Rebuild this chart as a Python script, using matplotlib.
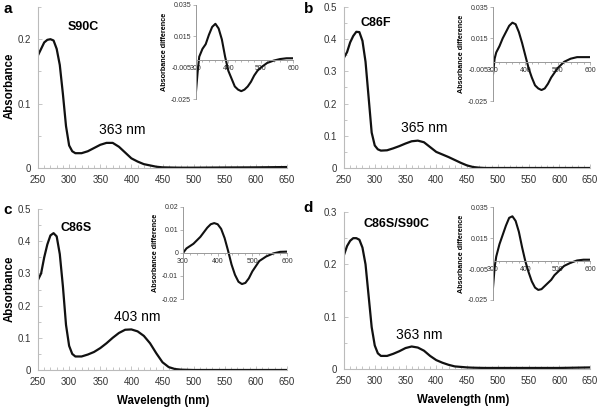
import matplotlib
matplotlib.use("Agg")
import matplotlib.pyplot as plt
from matplotlib.ticker import MultipleLocator

plt.rcParams['font.family'] = ['Liberation Sans', 'DejaVu Sans']

# Espectros de absorbancia (nm)
wl_main = [250, 255, 260, 265, 270, 275, 280, 285, 290, 295, 300, 305, 310, 320, 330,
           340, 350, 360, 370, 380, 390, 400, 410, 420, 430, 440, 450, 460, 470, 480,
           500, 550, 600, 650]
abs_s90c = [0.175, 0.185, 0.195, 0.199, 0.2, 0.198, 0.185, 0.16, 0.115, 0.065, 0.035, 0.026,
            0.023, 0.023, 0.026, 0.031, 0.036, 0.039, 0.039, 0.033, 0.024, 0.015, 0.01,
            0.006, 0.004, 0.002, 0.001, 0.0008, 0.0006, 0.0005, 0.0005, 0.0008, 0.001, 0.0015]
abs_c86f = [0.343, 0.36, 0.39, 0.41, 0.423, 0.422, 0.395, 0.33, 0.22, 0.11, 0.07, 0.058,
            0.054, 0.055, 0.061, 0.068, 0.076, 0.083, 0.085, 0.08, 0.065, 0.05, 0.042,
            0.034, 0.025, 0.016, 0.008, 0.003, 0.001, 0.0, 0.0, 0.0, 0.0, 0.0]
abs_c86s = [0.28, 0.3, 0.35, 0.39, 0.418, 0.425, 0.415, 0.36, 0.26, 0.14, 0.075, 0.05,
            0.042, 0.042, 0.048, 0.056, 0.068, 0.083, 0.1, 0.115, 0.125, 0.126, 0.12,
            0.106, 0.083, 0.052, 0.024, 0.009, 0.003, 0.001, 0.0, 0.0, 0.0, 0.0]
abs_c86s_s90c = [0.218, 0.235, 0.245, 0.25, 0.25, 0.247, 0.232, 0.2, 0.14, 0.08, 0.045, 0.03,
                 0.025, 0.025, 0.029, 0.034, 0.04, 0.043, 0.041, 0.035, 0.025, 0.017, 0.012,
                 0.008, 0.005, 0.004, 0.003, 0.0025, 0.0022, 0.002, 0.002, 0.002, 0.002, 0.003]

# Espectros de diferencia (insets)
wl_diff = [300, 305, 310, 320, 330, 340, 350, 360, 370, 380, 390, 400, 410, 420, 430, 440,
           450, 460, 470, 480, 490, 500, 520, 540, 560, 580, 600]
diff_s90c = [-0.02, -0.008, 0.002, 0.007, 0.01, 0.016, 0.021, 0.023, 0.02, 0.013, 0.002,
             -0.007, -0.012, -0.017, -0.019, -0.02, -0.019, -0.017, -0.014, -0.01, -0.007,
             -0.005, -0.002, -0.0005, 0.0005, 0.001, 0.001]
diff_c86f = [-0.008, 0.002, 0.006, 0.01, 0.015, 0.019, 0.023, 0.025, 0.024, 0.019, 0.012,
             0.004, -0.004, -0.01, -0.015, -0.017, -0.018, -0.017, -0.014, -0.01, -0.007,
             -0.004, 0.0, 0.002, 0.003, 0.003, 0.003]
diff_c86s = [0.0, 0.001, 0.002, 0.003, 0.004, 0.0055, 0.007, 0.009, 0.011, 0.0125, 0.013,
             0.0125, 0.0105, 0.0065, 0.001, -0.005, -0.0095, -0.0125, -0.0135, -0.013,
             -0.011, -0.008, -0.0035, -0.0015, -0.0002, 0.0005, 0.0006]
diff_c86s_s90c = [-0.017, -0.004, 0.003, 0.011, 0.017, 0.023, 0.028, 0.029, 0.026, 0.019,
                  0.009, 0.0, -0.007, -0.013, -0.017, -0.0185, -0.018, -0.016, -0.014,
                  -0.012, -0.009, -0.007, -0.003, -0.001, 0.0005, 0.001, 0.001]

W, H = 600, 409
fig = plt.figure(figsize=(6, 4.09), dpi=100)


def rect(x0, y0, x1, y1):
    # píxeles (arriba-izquierda) -> fracción de figura
    return [x0 / W, 1 - y1 / H, (x1 - x0) / W, (y1 - y0) / H]


def fmt(v):
    return "0" if abs(v) < 1e-12 else f"{v:g}"


def style_main(ax, ymax, ystep):
    n = int(round(ymax / ystep + 1e-6))
    ticks = [round(i * ystep, 4) for i in range(n + 1)]
    ax.set_yticks(ticks)
    ax.set_yticklabels([fmt(t) for t in ticks])
    ax.yaxis.set_minor_locator(MultipleLocator(ystep / 2))
    ax.set_xticks(range(250, 651, 50))
    ax.xaxis.set_minor_locator(MultipleLocator(10))
    ax.set_xlim(250, 650)
    ax.set_ylim(0, ymax)
    for s in ["top", "right"]:
        ax.spines[s].set_visible(False)
    for s in ["left", "bottom"]:
        ax.spines[s].set_color("#bbbbbb")
        ax.spines[s].set_linewidth(0.8)
    ax.tick_params(which="both", direction="in", color="#bbbbbb", labelsize=7,
                   labelcolor="#333333", width=0.6, pad=5)
    ax.tick_params(which="major", length=3)
    ax.tick_params(which="minor", length=2)
    ax.patch.set_alpha(0)


def style_inset(ax, ylo, yhi, ystep):
    n = int(round((yhi - ylo) / ystep + 1e-6))
    ticks = [round(ylo + i * ystep, 4) for i in range(n + 1)]
    ax.set_yticks(ticks)
    ax.set_yticklabels([fmt(v) for v in ticks])
    ax.set_xticks([300, 400, 500, 600])
    ax.xaxis.set_minor_locator(MultipleLocator(20))
    ax.set_xlim(300, 600)
    ax.set_ylim(ylo, yhi)
    ax.spines["bottom"].set_position(("data", 0))
    for s in ["top", "right"]:
        ax.spines[s].set_visible(False)
    for s in ["left", "bottom"]:
        ax.spines[s].set_color("#999999")
        ax.spines[s].set_linewidth(0.7)
    ax.tick_params(which="both", direction="out", color="#999999", labelsize=5,
                   labelcolor="#333333", width=0.5, pad=1.5)
    ax.tick_params(which="major", length=2)
    ax.tick_params(which="minor", length=1.5)
    ax.set_ylabel("Absorbance difference", fontsize=5.2, fontweight="bold", labelpad=2)
    ax.patch.set_alpha(0)


panels = [
    # main rect, inset rect, spectrum, diff, ymax, ystep, inset ylim, inset step
    (rect(38, 7, 287, 168), rect(196, 5, 293, 99), abs_s90c, diff_s90c, 0.25, 0.1, -0.025, 0.035, 0.02),
    (rect(344, 7, 590, 168), rect(493, 7, 590, 101), abs_c86f, diff_c86f, 0.5, 0.1, -0.025, 0.035, 0.02),
    (rect(38, 209, 287, 370), rect(183, 207, 287, 299), abs_c86s, diff_c86s, 0.5, 0.1, -0.02, 0.02, 0.01),
    (rect(344, 212, 590, 369), rect(493, 207, 590, 300), abs_c86s_s90c, diff_c86s_s90c, 0.3, 0.1, -0.025, 0.035, 0.02),
]

for main_r, ins_r, spec, diff, ymax, ystep, ilo, ihi, istep in panels:
    ax = fig.add_axes(main_r)
    ax.plot(wl_main, spec, color="#111111", lw=1.6)
    style_main(ax, ymax, ystep)
    axi = fig.add_axes(ins_r)
    axi.plot(wl_diff, diff, color="#111111", lw=1.5)
    style_inset(axi, ilo, ihi, istep)


def ftext(px, py, s, **kw):
    fig.text(px / W, 1 - py / H, s, ha="center", va="center", **kw)


# Letras de panel
ftext(8, 9, "a", fontsize=11, fontweight="bold")
ftext(309, 9, "b", fontsize=11, fontweight="bold")
ftext(8, 210, "c", fontsize=11, fontweight="bold")
ftext(308, 208, "d", fontsize=11, fontweight="bold")

# Nombres de mutantes
ftext(83, 27, "S90C", fontsize=9, fontweight="bold")
ftext(376, 23, "C86F", fontsize=9, fontweight="bold")
ftext(76, 228, "C86S", fontsize=9, fontweight="bold")
ftext(397, 224, "C86S/S90C", fontsize=9, fontweight="bold")

# Máximos
ftext(122, 130, "363 nm", fontsize=10)
ftext(424, 128, "365 nm", fontsize=10)
ftext(137, 317, "403 nm", fontsize=10)
ftext(419, 335, "363 nm", fontsize=10)

# Ejes
ftext(10, 86, "Absorbance", fontsize=8.3, fontweight="bold", rotation=90)
ftext(10, 289, "Absorbance", fontsize=8.3, fontweight="bold", rotation=90)
ftext(163, 401, "Wavelength (nm)", fontsize=8.3, fontweight="bold")
ftext(463, 400, "Wavelength (nm)", fontsize=8.3, fontweight="bold")

fig.savefig("out.png", dpi=100)
